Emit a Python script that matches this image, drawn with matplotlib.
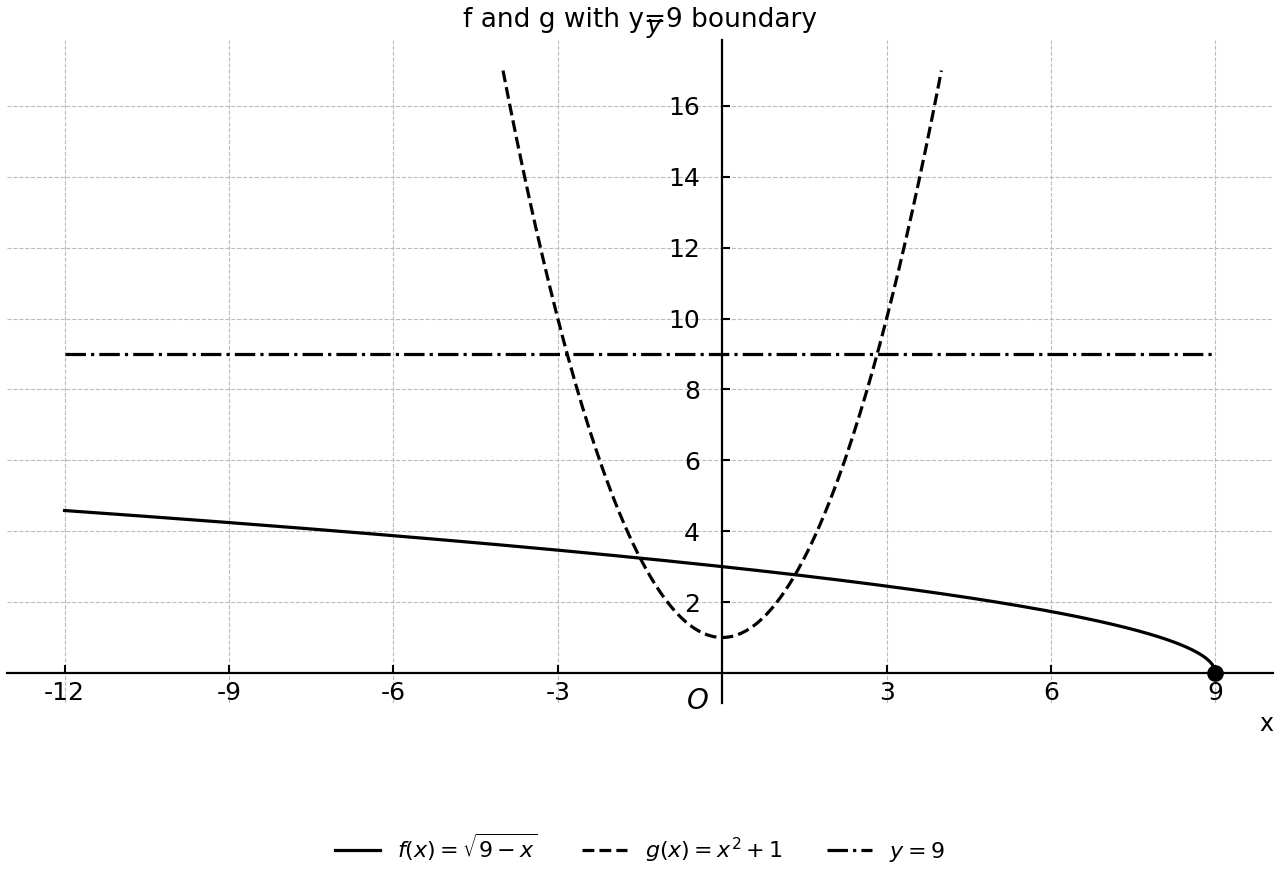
import matplotlib
matplotlib.use('Agg')
import matplotlib.pyplot as plt
import numpy as np

# Curves
x_f = np.linspace(-12, 9, 400)
y_f = np.sqrt(9 - x_f)
x_g = np.linspace(-4, 4, 200)
y_g = x_g**2 + 1
x_h = [-12, 9]
y_h = [9, 9]
endpoint = (9, 0)

xticks = [-12, -9, -6, -3, 3, 6, 9]
yticks = [2, 4, 6, 8, 10, 12, 14, 16]

fig = plt.figure(figsize=(12.8, 8.8), dpi=100)
ax = fig.add_axes([0.0055, 0.2011, 0.989, 0.753])

ax.plot(x_f, y_f, 'k-', lw=2.3, label=r'$f(x)=\sqrt{9-x}$')
ax.plot(x_g, y_g, 'k--', lw=2.3, label=r'$g(x)=x^2+1$')
ax.plot(x_h, y_h, 'k-.', lw=2.3, label=r'$y=9$')
ax.plot(*endpoint, 'ko', markersize=11, clip_on=False)

ax.set_xlim(-13.05, 10.05)
ax.set_ylim(-0.85, 17.85)

# Spines through the origin
ax.spines['left'].set_position(('data', 0))
ax.spines['bottom'].set_position(('data', 0))
ax.spines['right'].set_visible(False)
ax.spines['top'].set_visible(False)
for s in ['left', 'bottom']:
    ax.spines[s].set_linewidth(1.6)

ax.set_xticks(xticks)
ax.set_xticklabels([str(v) for v in xticks])
ax.set_yticks(yticks)
ax.set_yticklabels([str(v) for v in yticks])
ax.tick_params(axis='x', direction='in', length=6, width=1.5, labelsize=18, pad=6)
ax.tick_params(axis='y', direction='in', length=6, width=1.5, labelsize=18, pad=16)

ax.grid(True, linestyle='--', color='#bbbbbb', linewidth=0.8)

ax.set_title('f and g with y=9 boundary', fontsize=19, pad=10)
ax.set_xlabel('x', fontsize=17)
ax.xaxis.set_label_coords(0.995, -0.014)
ax.set_ylabel('$y$', fontsize=18, rotation=0)
ax.yaxis.set_label_coords(0.512, 1.0)
ax.text(-0.25, -0.4, '$O$', fontsize=20, ha='right', va='top')

fig.legend(loc='center', bbox_to_anchor=(0.5, 0.036), ncol=3, frameon=False, fontsize=16)

fig.savefig('out.png', dpi=100)
